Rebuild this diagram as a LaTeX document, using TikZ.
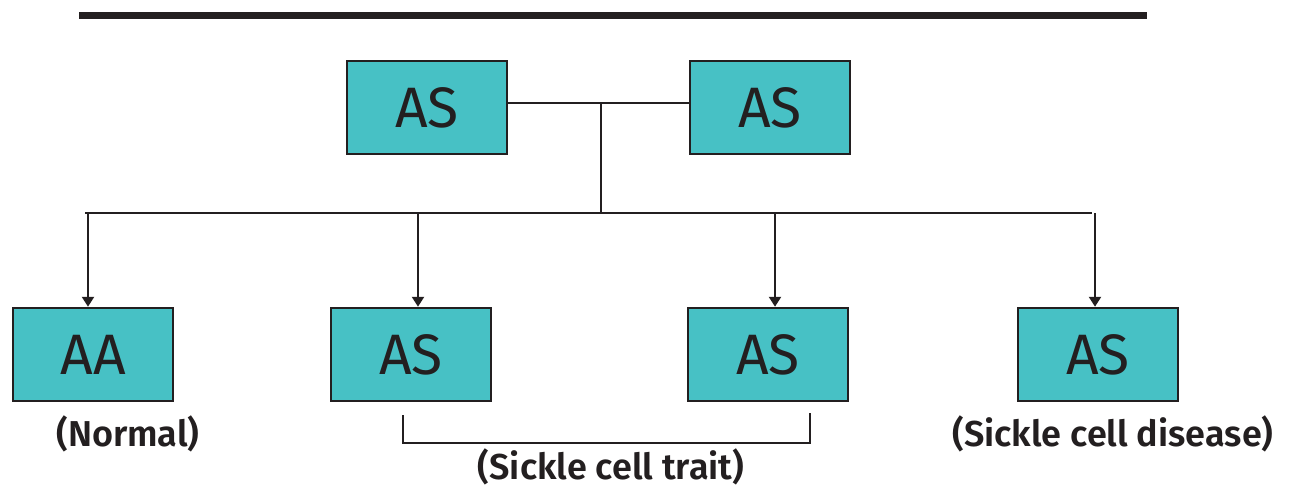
\documentclass[tikz,border=0pt]{standalone}
\usepackage{fontspec}
\setmainfont{Fira Sans}[BoldFont={Fira Sans SemiBold}]
\usetikzlibrary{arrows.meta}
\definecolor{cajaazul}{HTML}{47C1C5}
\definecolor{tinta}{HTML}{231F20}

\begin{document}
\begin{tikzpicture}[x=1pt,y=-1pt,
    caja/.style={draw=tinta, line width=2.5pt, fill=cajaazul, minimum width=160pt, minimum height=93pt, inner sep=0pt, text=tinta, font=\fontsize{57}{62}\selectfont},
    etiqueta/.style={text=tinta, font=\fontsize{36}{40}\selectfont\bfseries},
    linea/.style={draw=tinta, line width=2.3pt},
    flecha/.style={linea, -{Triangle[width=12pt,length=10pt]}}]

    \useasboundingbox (0,0) rectangle (1289,488);

    % Barra
    \coordinate (barraI) at (79,15.5);
    \coordinate (barraD) at (1147,15.5);
    \draw[draw=tinta, line width=7pt] (barraI) -- (barraD);

    % Padres
    \node[caja] (p1) at (427,107.5) {AS};
    \node[caja] (p2) at (770,107.5) {AS};

    % Hijos
    \node[caja] (h1) at (93,354.5) {AA};
    \node[caja] (h2) at (411,354.5) {AS};
    \node[caja] (h3) at (768,354.5) {AS};
    \node[caja] (h4) at (1098,354.5) {AS};

    % Conexiones
    \coordinate (union) at (601,103);
    \coordinate (reparto) at (601,213);
    \coordinate (repI) at (85,213);
    \coordinate (repD) at (1092,213);

    \draw[linea] (p1.east |- union) -- (p2.west |- union);
    \draw[linea] (union) -- (reparto);
    \draw[linea] (repI) -- (repD);

    \coordinate (a1) at (88,213);
    \coordinate (a2) at (418,213);
    \coordinate (a3) at (775,213);
    \coordinate (a4) at (1095,213);

    \draw[flecha] (a1) -- (a1 |- h1.north);
    \draw[flecha] (a2) -- (a2 |- h2.north);
    \draw[flecha] (a3) -- (a3 |- h3.north);
    \draw[flecha] (a4) -- (a4 |- h4.north);

    % Etiquetas
    \node[etiqueta] (normal) at (128,434) {(Normal)};
    \node[etiqueta] (enfermedad) at (1113,434) {(Sickle cell disease)};
    \node[etiqueta] (rasgo) at (611,467) {(Sickle cell trait)};

    % Corchete
    \coordinate (cI) at (403,415);
    \coordinate (cIb) at (403,443);
    \coordinate (cDb) at (810,443);
    \coordinate (cD) at (810,413);
    \draw[linea] (cI) -- (cIb) -- (cDb) -- (cD);

\end{tikzpicture}
\end{document}
